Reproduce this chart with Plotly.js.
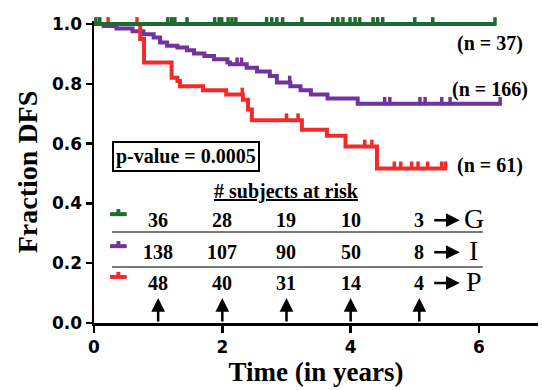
<!DOCTYPE html>
<html><head><meta charset="utf-8">
<script src="https://cdn.plot.ly/plotly-3.0.1.min.js"></script>
<style>html,body{margin:0;padding:0;background:#fff}</style>
</head><body><div id="chart" style="width:542px;height:390px"></div>
<script>
// Kaplan-Meier step data (time in years, fraction DFS)
const greenTimes = [0, 6.26];
const greenSurv  = [1.0, 1.0];
const greenCensor = [0.03, 0.09, 1.15, 1.21, 1.26, 1.45, 1.88, 1.95, 1.99, 2.09, 2.15, 2.21, 2.69, 2.77, 2.85, 2.94, 3.24, 3.72, 3.80, 3.88, 3.99, 4.07, 4.14, 4.35, 4.42, 4.50, 5.0, 5.28, 6.25];

const purpleTimes = [0, 0.15, 0.35, 0.6, 0.77, 0.93, 1.03, 1.14, 1.3, 1.45, 1.56, 1.72, 1.87, 2.08, 2.12, 2.38, 2.54, 2.74, 2.85, 3.06, 3.22, 3.38, 3.64, 4.11, 6.35];
const purpleSurv  = [1.0, 0.993, 0.985, 0.976, 0.966, 0.955, 0.938, 0.927, 0.921, 0.912, 0.901, 0.893, 0.882, 0.871, 0.865, 0.854, 0.841, 0.826, 0.804, 0.792, 0.778, 0.764, 0.751, 0.733, 0.733];
const purpleCensor = [2.23, 2.30, 3.05, 4.53, 4.61, 5.08, 5.16, 5.42, 5.55, 6.33];

const redTimes = [0, 0.72, 0.78, 1.21, 1.30, 1.34, 1.70, 2.06, 2.32, 2.40, 2.46, 3.24, 3.63, 3.92, 4.41, 5.5];
const redSurv  = [1.0, 0.95, 0.871, 0.82, 0.809, 0.792, 0.778, 0.764, 0.747, 0.714, 0.678, 0.646, 0.626, 0.59, 0.517, 0.517];
const redCensor = [0.22, 0.67, 2.31, 3.0, 3.18, 4.22, 4.33, 4.68, 4.78, 4.95, 5.05, 5.2, 5.42, 5.48];

const groupLabels = ["G", "I", "P"];
const nLabels = ["(n = 37)", "(n = 166)", "(n = 61)"];
const riskTimes = [1, 2, 3, 4, 5.07];
const riskG = [36, 28, 19, 10, 3];
const riskI = [138, 107, 90, 50, 8];
const riskP = [48, 40, 31, 14, 4];
const pValueText = "p-value = 0.0005";
const xTicks = [0, 2, 4, 6];
const yTicks = [0, 0.2, 0.4, 0.6, 0.8, 1.0];

const GREEN = '#1e6b30', PURPLE = '#7232a0', RED = '#f42a2a';
const SERIF = 'Liberation Serif, Times New Roman, serif';

function stepAt(times, surv, t) {
  let v = surv[0];
  for (let i = 0; i < times.length; i++) { if (times[i] <= t) v = surv[i]; }
  return v;
}

function kmTraces(times, surv, censor, color) {
  return [
    {x: times, y: surv, type: 'scatter', mode: 'lines', line: {shape: 'hv', color: color, width: 4}, hoverinfo: 'skip', cliponaxis: false},
    {x: censor, y: censor.map(t => stepAt(times, surv, t) + 0.009), type: 'scatter', mode: 'markers', cliponaxis: false,
     marker: {symbol: 'line-ns', size: 6, line: {color: color, width: 3.5}}, hoverinfo: 'skip'}
  ];
}

const data = [].concat(
  kmTraces(purpleTimes, purpleSurv, purpleCensor, PURPLE),
  kmTraces(redTimes, redSurv, redCensor, RED),
  kmTraces(greenTimes, greenSurv, greenCensor, GREEN)
);

const rowY = [0.344, 0.237, 0.134];
const rowColors = [GREEN, PURPLE, RED];
const riskRows = [riskG, riskI, riskP];

const annotations = [];
const numFont = {family: SERIF, size: 20, color: '#000', weight: 'bold'};
// n labels
const nY = [0.936, 0.781, 0.528];
nLabels.forEach((t, i) => annotations.push({x: 6.17, y: nY[i], xref: 'x', yref: 'y', text: t, showarrow: false, font: numFont}));
// p-value box
annotations.push({x: 1.43, y: 0.558, xref: 'x', yref: 'y', text: pValueText, showarrow: false, font: numFont,
  bordercolor: '#000', borderwidth: 2, borderpad: 2, bgcolor: '#fff'});
// header
annotations.push({x: 3.0, y: 0.44, xref: 'x', yref: 'y', text: '<u># subjects at risk</u>', showarrow: false, font: numFont});
// risk table
riskRows.forEach((row, r) => {
  row.forEach((v, i) => annotations.push({x: riskTimes[i], y: rowY[r], xref: 'x', yref: 'y', text: String(v), showarrow: false, font: numFont}));
  // arrow to group letter
  annotations.push({x: 5.70, y: rowY[r], xref: 'x', yref: 'y', ax: -27, ay: 0, text: '', showarrow: true,
    arrowhead: 2, arrowsize: 1.1, arrowwidth: 2.5, arrowcolor: '#000'});
  annotations.push({x: 5.92, y: rowY[r] + 0.005, xref: 'x', yref: 'y', text: groupLabels[r], showarrow: false,
    font: {family: SERIF, size: 28, color: '#000'}});
});
// up arrows at risk times
riskTimes.forEach(t => annotations.push({x: t, y: 0.084, xref: 'x', yref: 'y', ax: 0, ay: 25, text: '', showarrow: true,
  arrowhead: 2, arrowsize: 1.1, arrowwidth: 2.5, arrowcolor: '#000'}));

const shapes = [];
// separators
[0.304, 0.187].forEach(y => shapes.push({type: 'line', xref: 'x', yref: 'y', x0: 0.28, x1: 6.06, y0: y, y1: y, line: {color: '#7a7a7a', width: 2}}));
// legend symbols
rowY.forEach((y, r) => {
  const ys = y + 0.02;
  shapes.push({type: 'line', xref: 'x', yref: 'y', x0: 0.25, x1: 0.51, y0: ys, y1: ys, line: {color: rowColors[r], width: 4}});
  shapes.push({type: 'line', xref: 'x', yref: 'y', x0: 0.38, x1: 0.38, y0: ys, y1: ys + 0.017, line: {color: rowColors[r], width: 4}});
});

const layout = {
  width: 542, height: 390,
  margin: {l: 94, r: 4, t: 21, b: 67},
  paper_bgcolor: '#fff', plot_bgcolor: '#fff',
  showlegend: false,
  xaxis: {range: [0, 6.92], tickvals: xTicks, ticktext: xTicks.map(String), showgrid: false, zeroline: false,
    showline: true, linecolor: '#000', linewidth: 2.5, ticks: 'outside', ticklen: 7, tickwidth: 2.5, tickcolor: '#000',
    tickfont: {family: 'DejaVu Sans', size: 17, color: '#000', weight: 'bold'},
    title: {text: 'Time (in years)', font: {family: SERIF, size: 27, color: '#000', weight: 'bold'}, standoff: 2}},
  yaxis: {range: [0, 1.01], tickvals: yTicks, ticktext: yTicks.map(v => v.toFixed(1)), showgrid: false, zeroline: false,
    showline: true, linecolor: '#000', linewidth: 2.5, ticks: 'outside', ticklen: 6, tickwidth: 2.5, tickcolor: '#000',
    tickfont: {family: 'DejaVu Sans', size: 17, color: '#000', weight: 'bold'},
    title: {text: 'Fraction DFS', font: {family: SERIF, size: 28, color: '#000', weight: 'bold'}, standoff: 6}},
  annotations: annotations,
  shapes: shapes
};

Plotly.newPlot('chart', data, layout, {staticPlot: true, displayModeBar: false});
</script></body></html>
